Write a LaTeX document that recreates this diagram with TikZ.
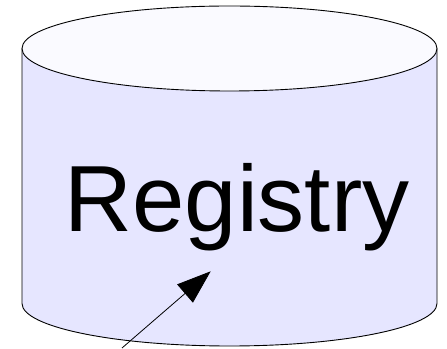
\documentclass[tikz,border=0pt]{standalone}
\usepackage{fontspec}
\setmainfont{Liberation Sans}
\usetikzlibrary{arrows.meta}
\definecolor{drumside}{RGB}{230,230,255}
\definecolor{drumtop}{RGB}{250,250,255}

\begin{document}
\begin{tikzpicture}[x=1pt,y=1pt]
    \useasboundingbox (0,0) rectangle (447,348);
    % Drum body
    \filldraw[fill=drumside, draw=black, line width=0.9pt] (22,299.5) -- (22,44.5)
        arc[start angle=180, end angle=360, x radius=207.5, y radius=42.5] -- (437,299.5);
    % Drum lid
    \filldraw[fill=drumtop, draw=black, line width=0.9pt] (229.5,299.5) ellipse[x radius=207.5, y radius=42.5];
    % Label
    \node[anchor=base, inner sep=0pt] (reg) at (237,116.3) {\fontsize{94}{100}\selectfont Registry};
    % Pointer
    \coordinate (src) at (122,0);
    \coordinate (dst) at (210.7,76.7);
    \draw[line width=0.8pt, -{Triangle[length=34pt,width=24pt]}] (src) -- (dst);
\end{tikzpicture}
\end{document}
